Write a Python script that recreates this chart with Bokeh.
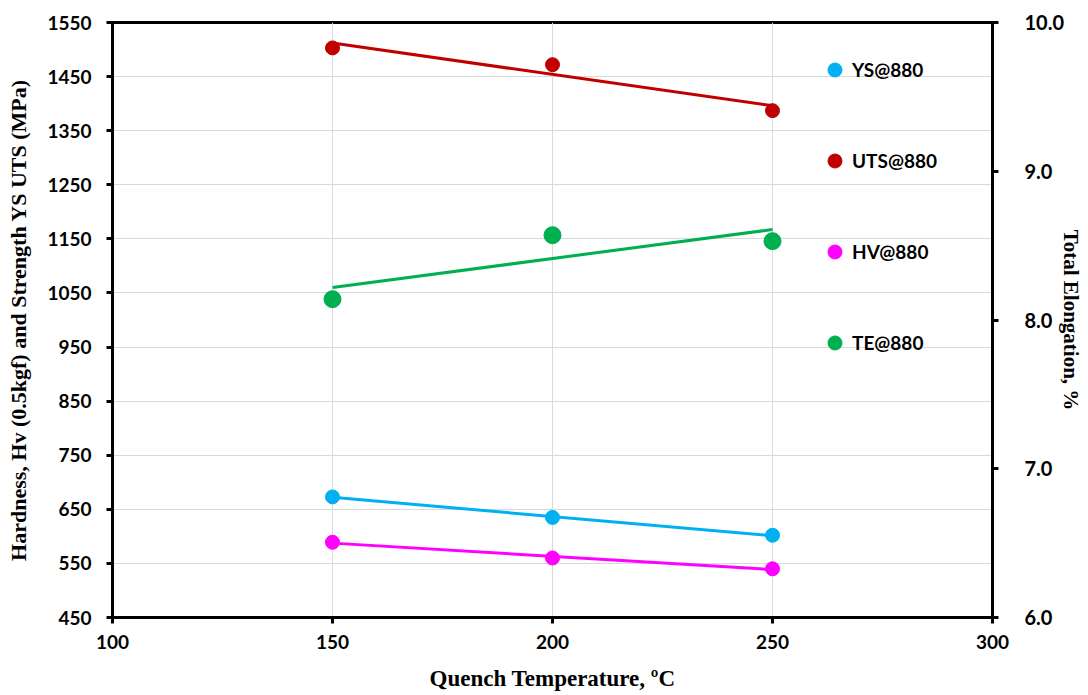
from bokeh.plotting import figure
from bokeh.models import Range1d, LinearAxis, Legend, LegendItem, FixedTicker, PrintfTickFormatter
from bokeh.embed import file_html
from bokeh.resources import INLINE
import numpy as np

# ---- data ----
temps = [150, 200, 250]
ys_880 = [673, 635, 602]
uts_880 = [1503, 1472, 1387]
hv_880 = [589, 560, 540]
te_880 = [8.14, 8.57, 8.53]

x_ticks = [100, 150, 200, 250, 300]
left_ticks = [450, 550, 650, 750, 850, 950, 1050, 1150, 1250, 1350, 1450, 1550]
right_ticks = [6, 7, 8, 9, 10]

names = ["YS@880", "UTS@880", "HV@880", "TE@880"]
colors = ["#00B0F0", "#C00000", "#FF00FF", "#00B050"]

TICK_FONT = "Lato"
TITLE_FONT = "Liberation Serif"

p = figure(width=1087, height=694, output_backend="svg", toolbar_location=None,
           x_range=Range1d(100, 300), y_range=Range1d(450, 1550),
           min_border_left=112, min_border_right=95, min_border_top=22, min_border_bottom=77)
p.extra_y_ranges = {"te": Range1d(6, 10)}

p.outline_line_color = "black"
p.outline_line_width = 3
p.background_fill_color = "white"
p.border_fill_color = "white"

# grids
p.xgrid.ticker = FixedTicker(ticks=x_ticks)
p.ygrid.ticker = FixedTicker(ticks=left_ticks)
for g in (p.xgrid, p.ygrid):
    g.grid_line_color = "#d9d9d9"
    g.grid_line_width = 1

# axes styling
def style_axis(ax, title_size, label_size="19px"):
    ax.axis_line_color = "black"
    ax.axis_line_width = 3
    ax.major_tick_line_color = "black"
    ax.major_tick_line_width = 3
    ax.major_tick_out = 6
    ax.major_tick_in = 0
    ax.minor_tick_line_color = None
    ax.major_label_text_font = TICK_FONT
    ax.major_label_text_font_style = "bold"
    ax.major_label_text_font_size = label_size
    ax.major_label_text_color = "black"
    ax.axis_label_text_font = TITLE_FONT
    ax.axis_label_text_font_style = "bold"
    ax.axis_label_text_font_size = title_size
    ax.axis_label_text_color = "black"

xa = p.xaxis[0]
style_axis(xa, "23px")
xa.ticker = FixedTicker(ticks=x_ticks)
xa.axis_label = "Quench Temperature, ºC"
xa.major_label_standoff = 11
xa.axis_label_standoff = 14

ya = p.yaxis[0]
style_axis(ya, "22px")
ya.ticker = FixedTicker(ticks=left_ticks)
ya.axis_label = "Hardness, Hv (0.5kgf) and Strength YS UTS (MPa)"
ya.major_label_standoff = 15
ya.axis_label_standoff = 13

ra = LinearAxis(y_range_name="te", ticker=FixedTicker(ticks=right_ticks),
                formatter=PrintfTickFormatter(format="%.1f"))
style_axis(ra, "21px", "20px")
ra.axis_label = "Total Elongation, %"
ra.major_label_standoff = 26
ra.major_label_text_align = "left"
ra.axis_label_standoff = -8
p.add_layout(ra, "right")

# series
series = [ys_880, uts_880, hv_880, te_880]
sizes = [14, 14, 14, 17]
renderers = []
for vals, c, s, nm in zip(series, colors, sizes, names):
    kw = {"y_range_name": "te"} if nm.startswith("TE") else {}
    k, b = np.polyfit(temps, vals, 1)
    xs = [temps[0], temps[-1]]
    p.line(xs, [k * x + b for x in xs], line_color=c, line_width=3, **kw)
    r = p.scatter(temps, vals, size=s, fill_color=c, line_color=c, **kw)
    renderers.append(r)

# thin legend-only line for UTS entry (as in reference legend)
uts_leg_line = p.line([], [], line_color="#9BBB59", line_width=1.5)

items = []
for nm, r in zip(names, renderers):
    rs = [uts_leg_line, r] if nm.startswith("UTS") else [r]
    items.append(LegendItem(label=nm, renderers=rs))

legend = Legend(items=items, location=(705, 257), orientation="vertical")
legend.background_fill_alpha = 0
legend.border_line_color = None
legend.padding = 0
legend.margin = 0
legend.spacing = 56
legend.glyph_height = 35
legend.glyph_width = 35
legend.label_height = 35
legend.label_standoff = 0
legend.label_text_font = TICK_FONT
legend.label_text_font_style = "bold"
legend.label_text_font_size = "19px"
legend.label_text_color = "black"
p.add_layout(legend, "center")

open("out.html", "w").write(file_html(p, INLINE))
